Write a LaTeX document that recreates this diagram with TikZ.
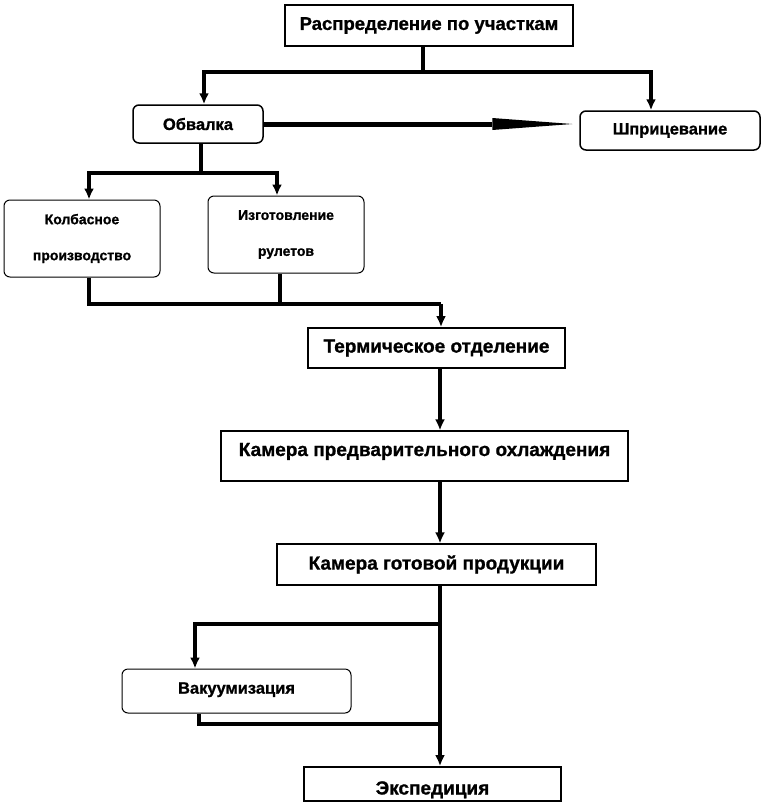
\documentclass[tikz,border=0pt]{standalone}
\usepackage{fontspec}
\setmainfont[BoldFeatures={FakeBold=1}]{Liberation Sans}
\usetikzlibrary{arrows.meta}

\begin{document}
\begin{tikzpicture}
    [
        x=1pt, y=-1pt,
        sqbox/.style={rectangle, draw, line width=1.8pt, inner sep=0pt, font=\bfseries\fontsize{19}{22}\selectfont,},
        rbox/.style={rectangle, rounded corners=6pt, draw, line width=1.5pt, inner sep=0pt, font=\bfseries\fontsize{16.5}{19}\selectfont,},
        smallbox/.style={rbox, line width=1pt, align=center, font=\bfseries\fontsize{14}{16}\selectfont,},
        link/.style={line width=3.5pt,},
        flow/.style={line width=3.5pt, -{Latex[length=11pt,width=10pt]},},
        longflow/.style={line width=5pt, -{Triangle[length=80pt,width=12pt,line width=0pt]}, shorten >=7pt,},
    ]

    \useasboundingbox (0,0) rectangle (762,804);

    % boxes
    \node (dist) at (429,25.5)  [sqbox, minimum width=288, minimum height=41, font=\bfseries\fontsize{18.5}{22}\selectfont] {Распределение  по участкам};
    \node (obv)  at (198,124)   [rbox, minimum width=130, minimum height=38] {Обвалка};
    \node (shpr) at (670,130.5) [rbox, minimum width=180, minimum height=39] {Шприцевание};
    \node (kolb) at (82,238.5)  [smallbox, minimum width=156, minimum height=77] {Колбасное\\[20pt]производство};
    \node (rul)  at (286,234.5) [smallbox, minimum width=156, minimum height=77] {Изготовление\\[20pt]рулетов};
    \node (term) at (436.5,348) [sqbox, minimum width=257, minimum height=40] {Термическое  отделение};
    \node (kpo)  at (424.5,456) [sqbox, line width=1.2pt, minimum width=407, minimum height=50] {\raisebox{0pt}[0pt][0pt]{Камера предварительного  охлаждения}};
    \node (kgp)  at (436.5,564.5) [sqbox, line width=1.2pt, minimum width=319, minimum height=41] {Камера готовой  продукции};
    \node (vak)  at (236.5,691) [rbox, line width=1pt, minimum width=229, minimum height=44] {\raisebox{6pt}{Вакуумизация}};
    \node (exp)  at (432.5,784) [sqbox, minimum width=257, minimum height=34] {\raisebox{-10.5pt}[0pt][0pt]{Экспедиция}};

    % junctions
    \coordinate (j1) at (423,72);
    \coordinate (j2) at (201,173);
    \coordinate (j3) at (441,304);
    \coordinate (j4) at (440,624);
    \coordinate (j5) at (440,724);
    \coordinate (vakin) at (195,624);

    \draw [link] (dist.south -| j1) -- (j1);
    \draw [flow] (j1) -| ([xshift=6]obv.north);
    \draw [flow] (j1) -| ([xshift=-19]shpr.north);
    \draw [longflow] (obv.east) -- (obv.east -| shpr.west);
    \draw [link] (obv.south -| j2) -- (j2);
    \draw [flow] (j2) -| ([xshift=7]kolb.north);
    \draw [flow] (j2) -| ([xshift=-9]rul.north);
    \draw [link] ([xshift=7]kolb.south) |- (j3);
    \draw [link] ([xshift=-6]rul.south) -- ([xshift=-6]rul.south |- j3);
    \draw [flow] (j3) -- (j3 |- term.north);
    \draw [flow] (term.south -| j4) -- (kpo.north -| j4);
    \draw [flow] (kpo.south -| j4) -- (kgp.north -| j4);
    \draw [flow] (kgp.south -| j4) -- (exp.north -| j4);
    \draw [flow] (j4) -- (vakin) -- (vakin |- vak.north);
    \draw [link] ([xshift=4]vakin |- vak.south) |- (j5);

\end{tikzpicture}
\end{document}
